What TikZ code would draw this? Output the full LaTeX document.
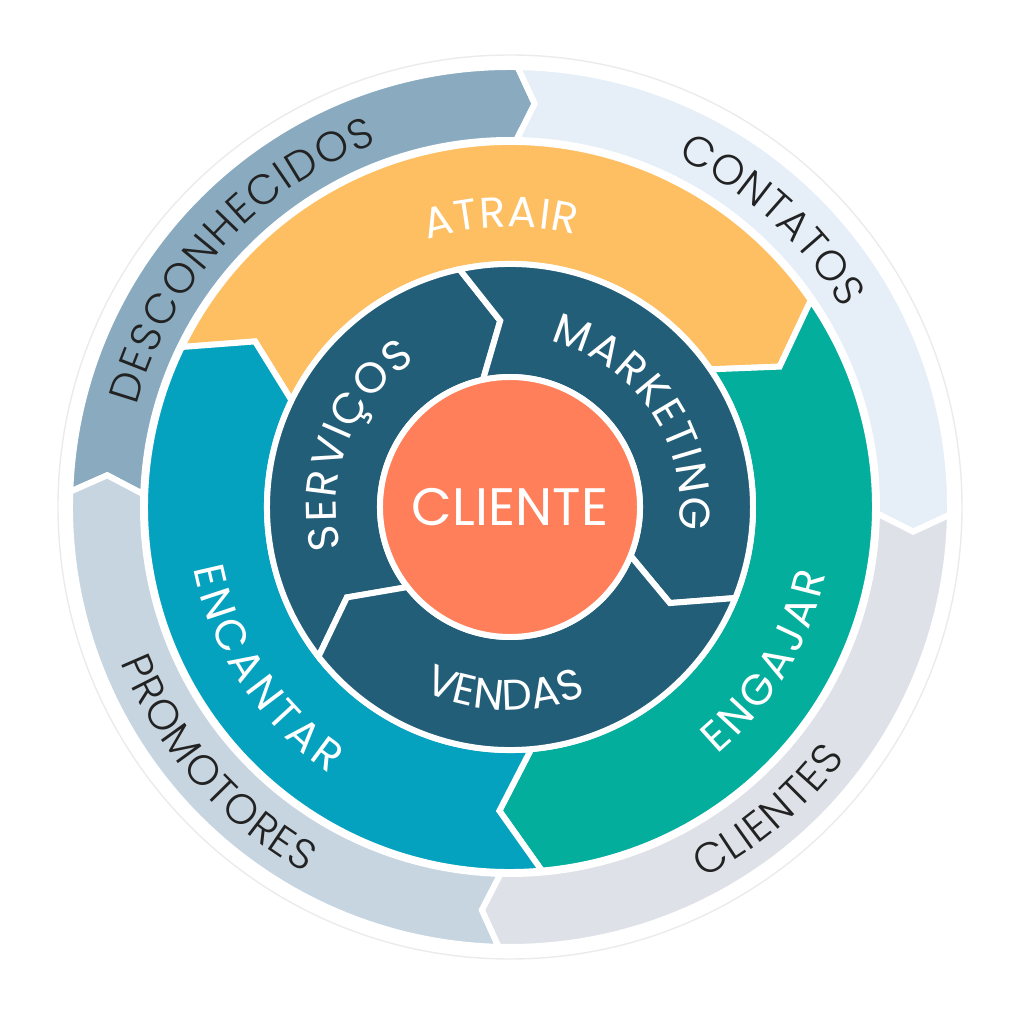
\documentclass[tikz,border=0pt]{standalone}
\usepackage{fontspec}
\setmainfont{Poppins}
\newfontfamily\thinfont{Poppins Light}
\usetikzlibrary{decorations.text}
\definecolor{desccol}{HTML}{8AABBF}
\definecolor{contcol}{HTML}{E6EEF8}
\definecolor{clicol}{HTML}{DEE2E8}
\definecolor{promcol}{HTML}{C7D5E1}
\definecolor{atrcol}{HTML}{FDBF61}
\definecolor{engcol}{HTML}{03AE9D}
\definecolor{enccol}{HTML}{04A2BE}
\definecolor{darkcol}{HTML}{235E78}
\definecolor{clientcol}{HTML}{FE7F5A}
\definecolor{inkcol}{HTML}{222222}
\begin{document}
\begin{tikzpicture}[x=0.1mm,y=0.1mm,
    seg/.style={draw=white,line width=1.7pt},
    outertext/.style={decorate,decoration={text along path,text align=fit to path,
        text={|\thinfont\fontsize{12}{14}\selectfont\color{inkcol}|#1}}},
    innertext/.style={decorate,decoration={text along path,text align=fit to path,
        text={|\fontsize{12.2}{14}\selectfont\color{white}|#1}}}]
    \useasboundingbox (-510,-517) rectangle (514,507);
    \draw[black!8,line width=0.4pt] (0,0) circle[radius=452];
    \fill[desccol,seg] (178:440) arc[start angle=178,end angle=89,radius=440] -- (86.5:404) -- (89:367) arc[start angle=89,end angle=178,radius=367] -- (175.5:404) -- cycle;
    \fill[contcol,seg] (89:440) arc[start angle=89,end angle=-1,radius=440] -- (-3.5:404) -- (-1:367) arc[start angle=-1,end angle=89,radius=367] -- (86.5:404) -- cycle;
    \fill[clicol,seg] (-1:440) arc[start angle=-1,end angle=-91.5,radius=440] -- (-94:404) -- (-91.5:367) arc[start angle=-91.5,end angle=-1,radius=367] -- (-3.5:404) -- cycle;
    \fill[promcol,seg] (268.5:440) arc[start angle=268.5,end angle=178,radius=440] -- (175.5:404) -- (178:367) arc[start angle=178,end angle=268.5,radius=367] -- (266:404) -- cycle;
    \fill[atrcol,seg] (154:365) arc[start angle=154,end angle=34.5,radius=365] -- (27.5:304) -- (34.5:243) arc[start angle=34.5,end angle=154,radius=243] -- (147:304) -- cycle;
    \fill[engcol,seg] (34.5:365) arc[start angle=34.5,end angle=-85,radius=365] -- (-92:304) -- (-85:243) arc[start angle=-85,end angle=34.5,radius=243] -- (27.5:304) -- cycle;
    \fill[enccol,seg] (275:365) arc[start angle=275,end angle=154,radius=365] -- (147:304) -- (154:243) arc[start angle=154,end angle=275,radius=243] -- (268:304) -- cycle;
    \fill[darkcol,seg] (218:243) arc[start angle=218,end angle=102,radius=243] -- (93:186.5) -- (102:130) arc[start angle=102,end angle=218,radius=130] -- (209:186.5) -- cycle;
    \fill[darkcol,seg] (102:243) arc[start angle=102,end angle=-22,radius=243] -- (-31:186.5) -- (-22:130) arc[start angle=-22,end angle=102,radius=130] -- (93:186.5) -- cycle;
    \fill[darkcol,seg] (338:243) arc[start angle=338,end angle=218,radius=243] -- (209:186.5) -- (218:130) arc[start angle=218,end angle=338,radius=130] -- (329:186.5) -- cycle;
    \node[circle,fill=clientcol,draw=white,line width=1.7pt,minimum size=26mm,inner sep=0pt,text=white,font=\fontsize{15}{18}\selectfont] (cliente) at (0,0) {CLIENTE};
    \path[outertext=DESCONHECIDOS] (164.8:387) arc[start angle=164.8,end angle=110.1,radius=387];
    \path[outertext=CONTATOS] (64.4:387) arc[start angle=64.4,end angle=30.8,radius=387];
    \path[outertext=CLIENTES] (-62.5:419) arc[start angle=-62.5,end angle=-36.9,radius=419];
    \path[outertext=PROMOTORES] (201.8:419) arc[start angle=201.8,end angle=240.7,radius=419];
    \path[innertext=ATRAIR] (107.2:280) arc[start angle=107.2,end angle=76.5,radius=280];
    \path[innertext=ENGAJAR] (-50:323) arc[start angle=-50,end angle=-12,radius=323];
    \path[innertext=ENCANTAR] (191:322) arc[start angle=191,end angle=236,radius=322];
    \path[innertext=SERVIÇOS] (193.7:174) arc[start angle=193.7,end angle=122.8,radius=174];
    \path[innertext=MARKETING] (76.3:170) arc[start angle=76.3,end angle=-7.7,radius=170];
    \path[innertext=VENDAS] (244.8:203) arc[start angle=244.8,end angle=292,radius=203];
\end{tikzpicture}
\end{document}
